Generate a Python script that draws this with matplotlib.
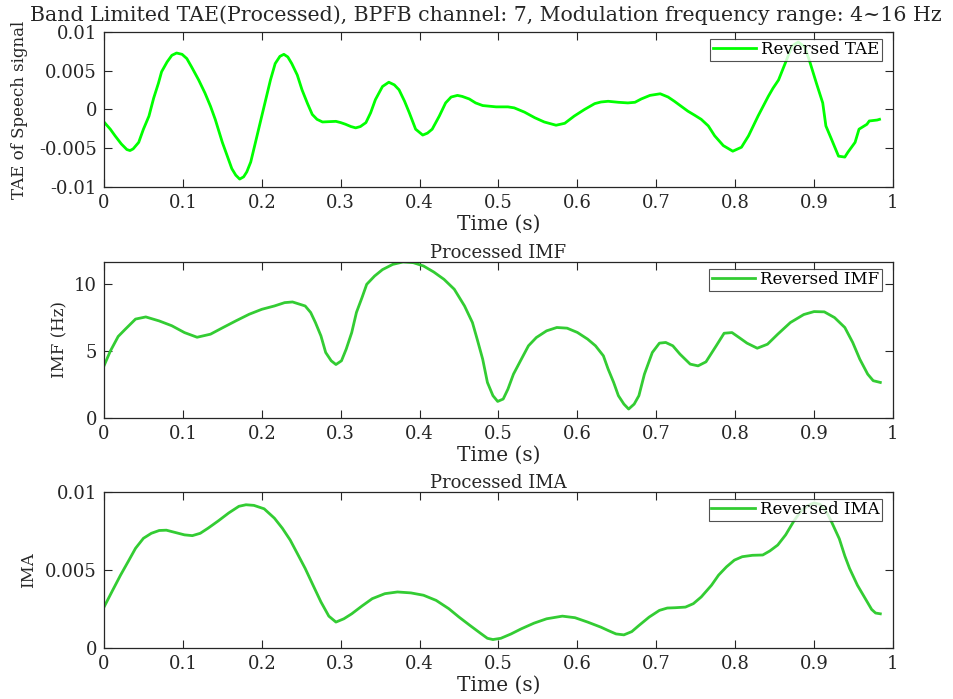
import matplotlib
matplotlib.use("Agg")
import matplotlib.pyplot as plt

plt.rcParams['font.family'] = ['DejaVu Serif']

# Reversed temporal amplitude envelope (TAE), in units of 1e-3
tae_t = [0.000, 0.008, 0.014, 0.022, 0.029, 0.033, 0.037, 0.044, 0.050, 0.057,
         0.063, 0.069, 0.073, 0.080, 0.086, 0.092, 0.099, 0.105, 0.111, 0.120,
         0.128, 0.135, 0.141, 0.150, 0.156, 0.162, 0.167, 0.172, 0.177, 0.181,
         0.186, 0.192, 0.198, 0.205, 0.211, 0.217, 0.223, 0.228, 0.233, 0.238,
         0.245, 0.251, 0.258, 0.264, 0.270, 0.277, 0.285, 0.294, 0.300, 0.306,
         0.313, 0.319, 0.325, 0.332, 0.338, 0.344, 0.353, 0.361, 0.368, 0.374,
         0.381, 0.387, 0.395, 0.404, 0.410, 0.416, 0.425, 0.433, 0.440, 0.448,
         0.454, 0.463, 0.471, 0.480, 0.497, 0.512, 0.520, 0.533, 0.546, 0.558,
         0.573, 0.584, 0.596, 0.609, 0.622, 0.630, 0.639, 0.652, 0.664, 0.673,
         0.681, 0.692, 0.705, 0.715, 0.723, 0.740, 0.749, 0.757, 0.766, 0.774,
         0.785, 0.797, 0.808, 0.817, 0.829, 0.842, 0.848, 0.855, 0.865, 0.872,
         0.880, 0.888, 0.894, 0.903, 0.911, 0.915, 0.922, 0.931, 0.939, 0.943,
         0.952, 0.957, 0.967, 0.970, 0.980, 0.983]
tae_v = [-1.61, -2.54, -3.39, -4.45, -5.17, -5.30, -5.08, -4.24, -2.54, -0.85,
         1.48, 3.39, 4.87, 6.14, 6.99, 7.29, 7.12, 6.57, 5.50, 3.81,
         2.12, 0.42, -1.27, -4.24, -5.93, -7.63, -8.47, -8.98, -8.69, -8.05,
         -6.78, -4.24, -1.69, 1.27, 3.81, 5.93, 6.86, 7.12, 6.78, 5.93,
         4.45, 2.54, 0.76, -0.64, -1.27, -1.61, -1.57, -1.53, -1.69, -1.90,
         -2.20, -2.37, -2.20, -1.69, -0.42, 1.27, 2.97, 3.52, 3.18, 2.54,
         1.06, -0.42, -2.54, -3.30, -3.05, -2.54, -0.85, 0.85, 1.61, 1.82,
         1.69, 1.36, 0.85, 0.51, 0.34, 0.34, 0.21, -0.34, -1.06, -1.61,
         -2.03, -1.78, -0.85, 0.00, 0.76, 0.97, 1.06, 0.93, 0.85, 0.93,
         1.36, 1.82, 2.03, 1.61, 1.06, -0.21, -0.76, -1.27, -2.12, -3.39,
         -4.66, -5.38, -4.87, -3.39, -0.85, 1.69, 2.75, 3.81, 6.36, 8.20,
         8.70, 8.10, 6.36, 3.39, 0.85, -2.12, -3.81, -6.02, -6.14, -5.50,
         -4.24, -2.54, -1.91, -1.48, -1.36, -1.27]
tae_v = [v * 1e-3 for v in tae_v]

# Reversed instantaneous modulation frequency (IMF), Hz
imf_t = [0.000, 0.008, 0.018, 0.027, 0.040, 0.053, 0.070, 0.086, 0.102, 0.118,
         0.135, 0.151, 0.167, 0.184, 0.200, 0.216, 0.229, 0.239, 0.255, 0.262,
         0.268, 0.275, 0.281, 0.288, 0.294, 0.301, 0.307, 0.314, 0.320, 0.327,
         0.333, 0.343, 0.353, 0.366, 0.379, 0.392, 0.405, 0.418, 0.431, 0.444,
         0.457, 0.467, 0.473, 0.480, 0.486, 0.493, 0.499, 0.506, 0.512, 0.519,
         0.529, 0.538, 0.548, 0.561, 0.574, 0.587, 0.600, 0.613, 0.623, 0.633,
         0.639, 0.646, 0.652, 0.659, 0.665, 0.672, 0.678, 0.685, 0.695, 0.704,
         0.712, 0.721, 0.730, 0.743, 0.753, 0.763, 0.776, 0.786, 0.796, 0.805,
         0.815, 0.828, 0.841, 0.854, 0.870, 0.887, 0.900, 0.913, 0.926, 0.939,
         0.949, 0.958, 0.968, 0.975, 0.984]
imf_v = [3.90, 5.00, 6.10, 6.64, 7.40, 7.56, 7.26, 6.90, 6.39, 6.04,
         6.27, 6.77, 7.26, 7.76, 8.13, 8.38, 8.63, 8.68, 8.38, 7.89,
         7.14, 6.14, 4.90, 4.28, 4.00, 4.28, 5.15, 6.39, 7.90, 9.00,
         10.00, 10.62, 11.10, 11.49, 11.67, 11.62, 11.37, 10.92, 10.37, 9.63,
         8.38, 7.14, 5.90, 4.40, 2.66, 1.67, 1.24, 1.42, 2.16, 3.28,
         4.40, 5.40, 6.02, 6.52, 6.77, 6.72, 6.40, 5.90, 5.40, 4.65,
         3.66, 2.66, 1.67, 1.04, 0.67, 1.04, 1.67, 3.28, 4.90, 5.60,
         5.65, 5.40, 4.78, 4.03, 3.90, 4.20, 5.40, 6.34, 6.39, 6.02,
         5.60, 5.22, 5.52, 6.27, 7.14, 7.74, 7.96, 7.94, 7.51, 6.77,
         5.65, 4.40, 3.28, 2.79, 2.66]

# Reversed instantaneous modulation amplitude (IMA), in units of 1e-3
ima_t = [0.000, 0.011, 0.021, 0.031, 0.040, 0.050, 0.060, 0.070, 0.079, 0.089,
         0.102, 0.112, 0.122, 0.132, 0.145, 0.158, 0.171, 0.180, 0.190, 0.203,
         0.216, 0.226, 0.236, 0.245, 0.255, 0.265, 0.275, 0.285, 0.294, 0.304,
         0.314, 0.327, 0.340, 0.356, 0.372, 0.389, 0.405, 0.421, 0.437, 0.450,
         0.464, 0.477, 0.486, 0.493, 0.503, 0.516, 0.529, 0.545, 0.561, 0.581,
         0.597, 0.613, 0.630, 0.639, 0.649, 0.659, 0.669, 0.678, 0.691, 0.704,
         0.714, 0.724, 0.737, 0.747, 0.757, 0.770, 0.779, 0.789, 0.799, 0.809,
         0.822, 0.835, 0.844, 0.854, 0.864, 0.874, 0.883, 0.893, 0.900, 0.908,
         0.916, 0.922, 0.932, 0.939, 0.945, 0.955, 0.965, 0.973, 0.978, 0.984]
ima_v = [2.62, 3.70, 4.67, 5.57, 6.39, 7.03, 7.35, 7.53, 7.55, 7.42,
         7.25, 7.20, 7.35, 7.68, 8.15, 8.65, 9.08, 9.18, 9.14, 8.92,
         8.32, 7.68, 6.92, 6.06, 5.10, 4.02, 2.95, 2.04, 1.66, 1.87,
         2.19, 2.69, 3.16, 3.48, 3.59, 3.53, 3.38, 3.05, 2.52, 1.98,
         1.44, 0.95, 0.62, 0.54, 0.62, 0.90, 1.23, 1.59, 1.87, 2.04,
         1.94, 1.66, 1.33, 1.12, 0.90, 0.84, 1.05, 1.44, 1.98, 2.41,
         2.56, 2.58, 2.62, 2.84, 3.27, 4.02, 4.67, 5.20, 5.63, 5.85,
         5.94, 5.96, 6.22, 6.60, 7.25, 8.10, 8.75, 9.15, 9.30, 9.20,
         8.70, 8.10, 7.00, 5.90, 5.10, 4.02, 3.16, 2.47, 2.24, 2.19]
ima_v = [v * 1e-3 for v in ima_v]

x_ticks = [0, 0.1, 0.2, 0.3, 0.4, 0.5, 0.6, 0.7, 0.8, 0.9, 1]
x_tick_labels = ['0', '0.1', '0.2', '0.3', '0.4', '0.5', '0.6', '0.7', '0.8', '0.9', '1']

panels = [
    dict(t=tae_t, v=tae_v, color='#00ff00', label='Reversed TAE',
         title='Band Limited TAE(Processed), BPFB channel: 7, Modulation frequency range: 4~16 Hz',
         title_size=14.8, title_pad=8, title_x=0.484, ylabel_pad=8,
         ylabel='TAE of Speech signal', ylim=(-0.01, 0.01),
         yticks=[-0.01, -0.005, 0, 0.005, 0.01],
         yticklabels=['-0.01', '-0.005', '0', '0.005', '0.01'],
         rect=[0.109, 0.7325, 0.827, 0.2217]),
    dict(t=imf_t, v=imf_v, color='#33cc33', label='Reversed IMF',
         title='Processed IMF', title_size=13, title_pad=3, title_x=0.5,
         ylabel_pad=4,
         ylabel='IMF (Hz)', ylim=(0, 11.67),
         yticks=[0, 5, 10], yticklabels=['0', '5', '10'],
         rect=[0.109, 0.402, 0.827, 0.2232]),
    dict(t=ima_t, v=ima_v, color='#33cc33', label='Reversed IMA',
         title='Processed IMA', title_size=13, title_pad=3, title_x=0.5,
         ylabel_pad=6,
         ylabel='IMA', ylim=(0, 0.01),
         yticks=[0, 0.005, 0.01], yticklabels=['0', '0.005', '0.01'],
         rect=[0.109, 0.073, 0.827, 0.2232]),
]

fig = plt.figure(figsize=(9.54, 6.99), dpi=100)
axis_color = '#262626'

for p in panels:
    ax = fig.add_axes(p['rect'])
    ax.plot(p['t'], p['v'], color=p['color'], lw=2.0, label=p['label'],
            solid_joinstyle='round')
    ax.set_xlim(0, 1)
    ax.set_ylim(*p['ylim'])
    ax.set_xticks(x_ticks)
    ax.set_xticklabels(x_tick_labels)
    ax.set_yticks(p['yticks'])
    ax.set_yticklabels(p['yticklabels'])
    ax.tick_params(direction='in', length=6, width=0.8, top=True, right=True,
                   labelsize=13, colors=axis_color, pad=5)
    for s in ax.spines.values():
        s.set_color(axis_color)
        s.set_linewidth(0.9)
    ax.set_xlabel('Time (s)', fontsize=14.5, color=axis_color, labelpad=2)
    ax.set_ylabel(p['ylabel'], fontsize=12, color=axis_color,
                  labelpad=p['ylabel_pad'])
    ax.set_title(p['title'], fontsize=p['title_size'], color=axis_color,
                 pad=p['title_pad'], x=p['title_x'])
    leg = ax.legend(loc='upper right', bbox_to_anchor=(0.986, 0.958),
                    borderaxespad=0, fontsize=12, frameon=True, fancybox=False,
                    handlelength=2.6, borderpad=0.15, handletextpad=0.3)
    leg.get_frame().set_edgecolor('#262626')
    leg.get_frame().set_linewidth(0.8)

fig.savefig('out.png', dpi=100)
